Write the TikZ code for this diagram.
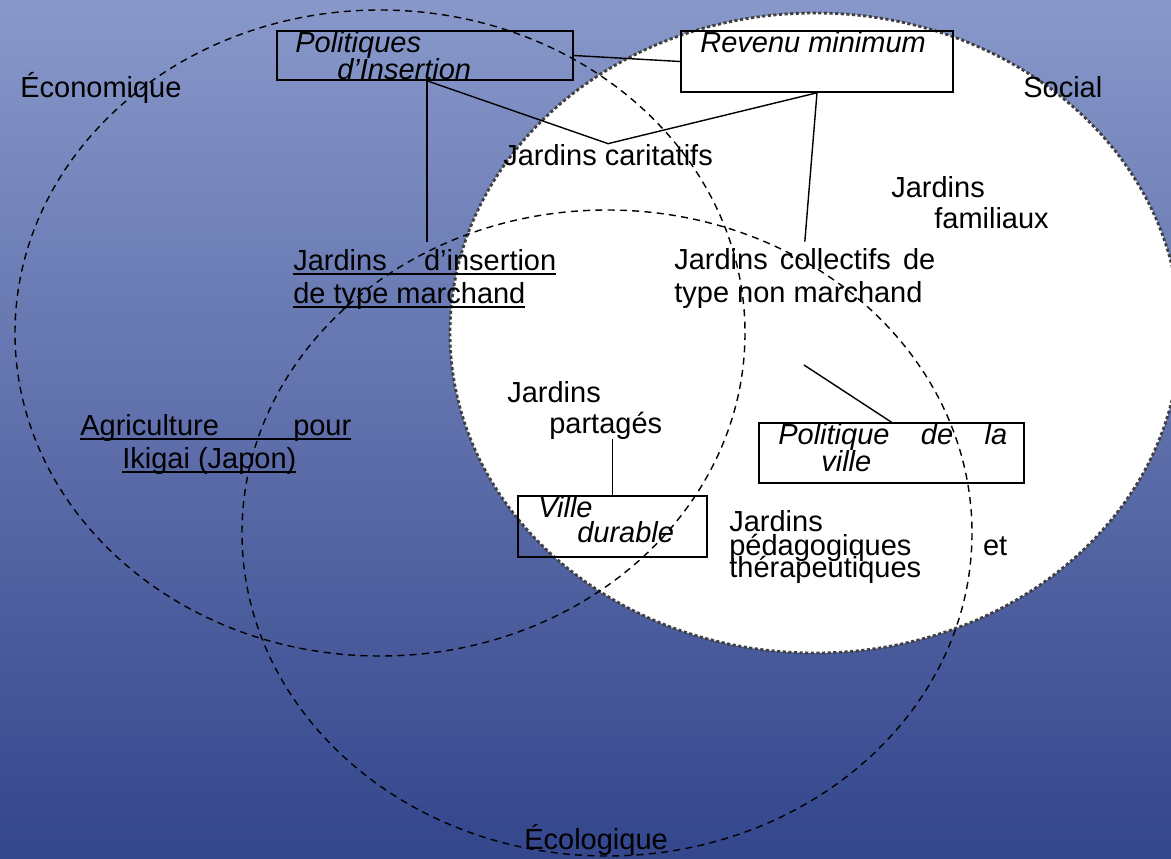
\documentclass[tikz,border=0pt]{standalone}
\usepackage{fontspec}
\setmainfont{Liberation Sans}
\definecolor{fondhaut}{RGB}{136,152,202}
\definecolor{fondbas}{RGB}{52,70,140}
\newcommand{\souligne}[1]{\setbox0\hbox{#1}\rlap{\rule[-2.6pt]{\wd0}{0.9pt}}\box0}

\begin{document}
\begin{tikzpicture}[x=0.02cm, y=-0.02cm,
  texte/.style={anchor=base west, inner sep=0pt, font=\fontsize{16.5}{20}\selectfont},
  cadre/.style={draw, line width=0.9pt, inner sep=0pt},
  sphere/.style={dash pattern=on 4pt off 3pt, line width=0.8pt},
  every edge/.append style={line width=0.8pt}]

\useasboundingbox (0,0) rectangle (1171,859);
\fill[top color=fondhaut, bottom color=fondbas] (0,0) rectangle (1171,859);

% Social
\fill[white] (815,333) ellipse [x radius=365, y radius=320];
\draw[black!75, line width=1.6pt, dash pattern=on 1.8pt off 1.4pt] (815,333) ellipse [x radius=365, y radius=320];
% Economique et Ecologique
\draw[sphere] (380,333) ellipse [x radius=365, y radius=323];
\draw[sphere] (607,533) ellipse [x radius=365, y radius=323];

\node[texte] (eco) at (20,97) {Économique};
\node[texte] (social) at (1023,97) {Social};
\node[texte] (ecolo) at (524,849) {Écologique};

\node[texte] (polit1) at (295,52) {\itshape Politiques};
\node[texte] (polit2) at (337,79) {\itshape d’Insertion};
\node[texte] (revenu1) at (700,52) {\itshape Revenu minimum};
\node[texte] (caritatifs) at (503,165) {Jardins caritatifs};
\node[texte] (familiaux1) at (891,197) {Jardins};
\node[texte] (familiaux2) at (934,228) {familiaux};
\node[texte] (insertion1) at (293,270) {\souligne{\makebox[5.26cm][s]{Jardins d’insertion}}};
\node[texte] (insertion2) at (293,303) {\souligne{de type marchand}};
\node[texte] (collectifs1) at (674,269) {\makebox[5.22cm][s]{Jardins collectifs de}};
\node[texte] (collectifs2) at (674,302) {type non marchand};
\node[texte] (agri1) at (80,435) {\souligne{\makebox[5.42cm][s]{Agriculture pour}}};
\node[texte] (agri2) at (122,468) {\souligne{Ikigai (Japon)}};
\node[texte] (partages1) at (507,402) {Jardins};
\node[texte] (partages2) at (549,433) {partagés};
\node[texte] (ville1) at (538,517) {\itshape Ville};
\node[texte] (ville2) at (577,542) {\itshape durable};
\node[texte] (pville1) at (778,444) {\itshape\makebox[4.58cm][s]{Politique de la}};
\node[texte] (pville2) at (821,471) {\itshape ville};
\node[texte] (pedago1) at (729,531) {Jardins};
\node[texte] (pedago2) at (729,555) {\makebox[5.56cm][s]{pédagogiques et}};
\node[texte] (pedago3) at (729,577) {thérapeutiques};

\node[cadre, minimum width=5.92cm, minimum height=0.98cm] (politiques) at (425,55.5) {};
\node[cadre, minimum width=5.44cm, minimum height=1.22cm] (revenu) at (817,61.5) {};
\node[cadre, minimum width=3.78cm, minimum height=1.22cm] (ville) at (612.5,526.5) {};
\node[cadre, minimum width=5.30cm, minimum height=1.20cm] (pville) at (891.5,453) {};

\coordinate (depart) at (804,365);

\path (politiques.east) edge (revenu.west);
\path ([xshift=0.04cm]politiques.south) edge ([xshift=0.04cm,yshift=0.14cm]politiques.south |- insertion1.north);
\path ([xshift=0.04cm]politiques.south) edge (caritatifs.north);
\path (caritatifs.north) edge (revenu.south);
\path (revenu.south) edge ([yshift=0.12cm]collectifs1.north);
\path (depart) edge (pville.north);
\path (ville.north |- partages2.south) edge (ville.north);

\end{tikzpicture}
\end{document}
